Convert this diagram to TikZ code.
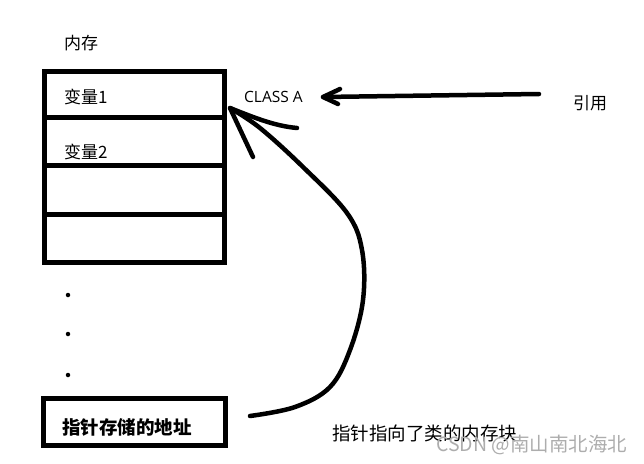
\documentclass[tikz,border=0pt]{standalone}
\usepackage{fontspec}
\newfontfamily\cjk{Noto Sans CJK SC}
\newfontfamily\latin{Open Sans}
\begin{document}
\begin{tikzpicture}[x=1pt,y=-1pt,
  cell/.style={draw=black,line width=4.5pt,minimum width=180pt,inner sep=0pt,anchor=north west},
  lbl/.style={font=\cjk\fontsize{17}{17}\selectfont,anchor=west,inner sep=0pt},
  stroke/.style={line width=4.5pt,line cap=round,line join=round},
  dotm/.style={circle,fill=black,inner sep=0pt,minimum size=4.5pt}]
\useasboundingbox (0,0) rectangle (644,463);
% memory cells
\node[cell,minimum height=46pt] (c1) at (42,69) {};
\node[cell,minimum height=48pt] (c2) at (42,115) {};
\node[cell,minimum height=49pt] (c3) at (42,163) {};
\node[cell,minimum height=48pt] (c4) at (42,212) {};
\node[cell,minimum height=47pt,minimum width=182pt] (ptr) at (41,396) {};
% texts
\node[lbl] (mem) at (64,43) {内存};
\node[lbl] (v1) at (64,97) {变量1};
\node[lbl] (v2) at (64,152) {变量2};
\node[anchor=west,inner sep=0pt,font=\latin\fontsize{15.5}{15.5}\selectfont] (cls) at (244,97) {CLASS A};
\node[lbl] (ref) at (573,103) {引用};
\node[anchor=west,inner sep=0pt,font=\cjk\bfseries\fontsize{18.5}{18.5}\selectfont] (ptrt) at (62,427) {指针存储的地址};
\node[anchor=west,inner sep=0pt,font=\cjk\fontsize{18.5}{18.5}\selectfont] (note) at (332,433) {指针指向了类的内存块};
\node[anchor=west,inner sep=0pt,text=black!32,font=\cjk\fontsize{19.5}{19.5}\selectfont] (wm) at (436,445) {CSDN @南山南北海北};
% dots
\node[dotm] (d1) at (68,295) {};
\node[dotm] (d2) at (68,334) {};
\node[dotm] (d3) at (68,375) {};
% reference arrow
\coordinate (rs) at (539,94);
\coordinate (rt) at (323,97);
\coordinate (ru) at (340,89);
\coordinate (rl) at (338,104);
\draw[stroke] (rs) -- (rt);
\draw[stroke] (ru) -- (rt) -- (rl);
% pointer arrow
\coordinate (ps) at (250,416);
\coordinate (pt) at (230,108);
\coordinate (pu) at (297,128);
\coordinate (pl) at (253,157);
\draw[stroke] plot[smooth,tension=0.6] coordinates {(ps) (295,407) (330,387) (350,350) (363,300) (362,250) (347,213) (303,167) (260,128) (pt)};
\draw[stroke] (pu) .. controls (275,126) and (255,118) .. (pt) -- (pl);
\end{tikzpicture}
\end{document}
